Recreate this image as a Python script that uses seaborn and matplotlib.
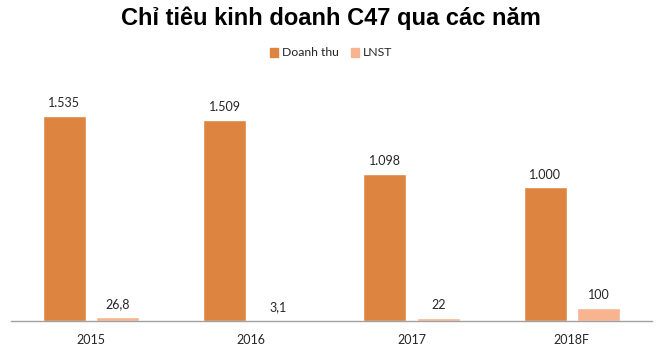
import numpy as np
import pandas as pd
import matplotlib.pyplot as plt
import seaborn as sns
from matplotlib.patches import Patch

# du lieu
nam = ['2015', '2016', '2017', '2018F']
doanh_thu = [1535, 1509, 1098, 1000]
lnst = [26.8, 3.1, 22, 100]
nhan_dt = ['1.535', '1.509', '1.098', '1.000']
nhan_ln = ['26,8', '3,1', '22', '100']

mau_dt = '#DD8440'
mau_ln = '#F8B48F'

df = pd.DataFrame({
    'nam': nam * 2,
    'gia_tri': doanh_thu + lnst,
    'chi_tieu': ['Doanh thu'] * 4 + ['LNST'] * 4,
})

sns.set_theme(style='white')
plt.rcParams['font.family'] = ['Lato', 'DejaVu Sans']

fig = plt.figure(figsize=(6.62, 3.54), dpi=100)
ax = fig.add_axes([11 / 662, 1 - 321 / 354, 641 / 662, 227 / 354])

sns.barplot(data=df, x='nam', y='gia_tri', hue='chi_tieu',
            palette=[mau_dt, mau_ln], width=0.67, gap=0.2,
            saturation=1, legend=False, ax=ax)
ax.set_ylim(0, 1700)

# nhan so lieu
for cont, nhan in zip(ax.containers, [nhan_dt, nhan_ln]):
    ax.bar_label(cont, labels=nhan, padding=5, fontsize=9, color='#262626')

ax.set_xlabel('')
ax.set_ylabel('')
ax.set_yticks([])
ax.tick_params(axis='x', length=0, pad=9, labelsize=9, colors='#262626')
for s in ['top', 'left', 'right']:
    ax.spines[s].set_visible(False)
ax.spines['bottom'].set_color('#A0A0A0')
ax.spines['bottom'].set_linewidth(1)

fig.text(0.5, 1 - 18 / 354, 'Chỉ tiêu kinh doanh C47 qua các năm',
         ha='center', va='center', fontsize=17, fontweight='bold',
         fontfamily='Liberation Sans', color='black')

handles = [Patch(color=mau_dt, label='Doanh thu'), Patch(color=mau_ln, label='LNST')]
fig.legend(handles=handles, loc='center', bbox_to_anchor=(0.5, 1 - 53 / 354),
           ncol=2, frameon=False, fontsize=8.8, handlelength=0.7, handleheight=0.7,
           handletextpad=0.3, columnspacing=1.0, labelcolor='#262626')

fig.savefig('out.png', dpi=100)
